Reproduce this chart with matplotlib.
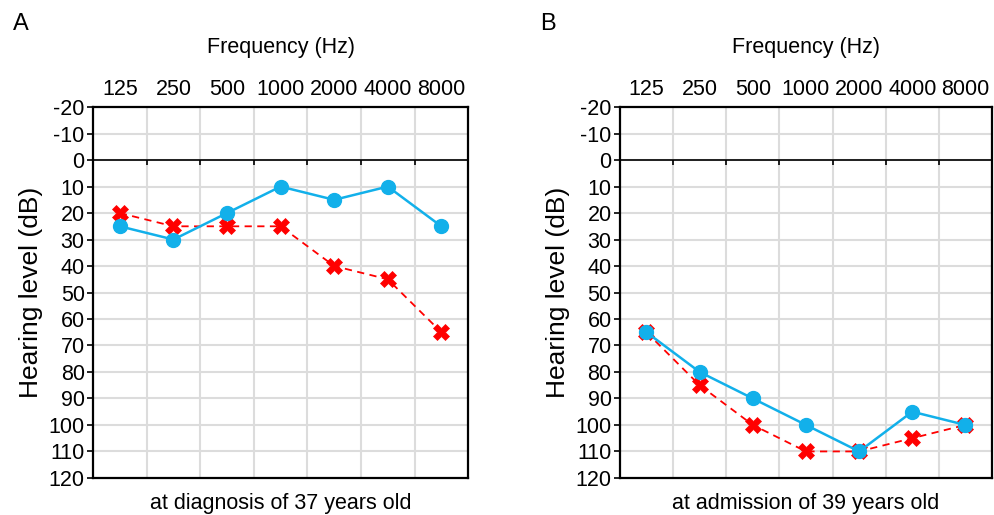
import numpy as np
import matplotlib.pyplot as plt

plt.rcParams['font.family'] = ['Liberation Sans', 'DejaVu Sans']

freqs = ['125', '250', '500', '1000', '2000', '4000', '8000']
yticks = list(range(-20, 130, 10))

# panel A: at diagnosis
a_blue = [25, 30, 20, 10, 15, 10, 25]
a_red = [20, 25, 25, 25, 40, 45, 65]
# panel B: at admission
b_blue = [65, 80, 90, 100, 110, 95, 100]
b_red = [65, 85, 100, 110, 110, 105, 100]

BLUE = '#12b0ea'
RED = '#ff0000'


def audiogram(ax, blue, red, caption):
    x = np.arange(len(freqs))
    ax.set_xlim(-0.5, len(freqs) - 0.5)
    ax.set_ylim(120, -20)
    ax.set_yticks(yticks)
    ax.set_yticklabels([str(t) for t in yticks], fontsize=15.5)
    ax.set_xticks(x)
    ax.set_xticklabels(freqs, fontsize=15.5)
    ax.xaxis.tick_top()
    ax.tick_params(axis='x', length=0, pad=5)
    ax.tick_params(axis='y', length=4, width=1.2, pad=2, direction='out')
    ax.xaxis.set_label_position('top')
    ax.set_xlabel('Frequency (Hz)', fontsize=15.5, labelpad=19)
    ax.set_ylabel('Hearing level (dB)', fontsize=19, labelpad=4)

    # grid
    for gx in x[:-1] + 0.5:
        ax.axvline(gx, color='#dcdcdc', lw=1.5, zorder=0)
    for gy in yticks[1:-1]:
        ax.axhline(gy, color='#dcdcdc', lw=1.5, zorder=0)
    ax.axhline(0, color='black', lw=1.2, zorder=1)
    ax.vlines(x[:-1] + 0.5, 0, 2, color='black', lw=1.2, zorder=1)

    for s in ax.spines.values():
        s.set_linewidth(1.6)

    ax.plot(x, red, color=RED, ls=(0, (4, 3)), lw=1.3, marker='X',
            markersize=11, markeredgewidth=0.5, zorder=3)
    ax.plot(x, blue, color=BLUE, lw=1.8, marker='o', markersize=10, zorder=4)

    ax.text(0.5, -0.04, caption, transform=ax.transAxes, ha='center',
            va='top', fontsize=15.5)
    return ax


fig = plt.figure(figsize=(9.95, 5.15), dpi=100)
ax1 = fig.add_axes([0.0935, 0.072, 0.377, 0.72])
ax2 = fig.add_axes([0.623, 0.072, 0.374, 0.72])

audiogram(ax1, a_blue, a_red, 'at diagnosis of 37 years old')
audiogram(ax2, b_blue, b_red, 'at admission of 39 years old')

fig.text(0.013, 0.953, 'A', fontsize=17, va='center')
fig.text(0.543, 0.953, 'B', fontsize=17, va='center')

fig.savefig('out.png', dpi=100)
